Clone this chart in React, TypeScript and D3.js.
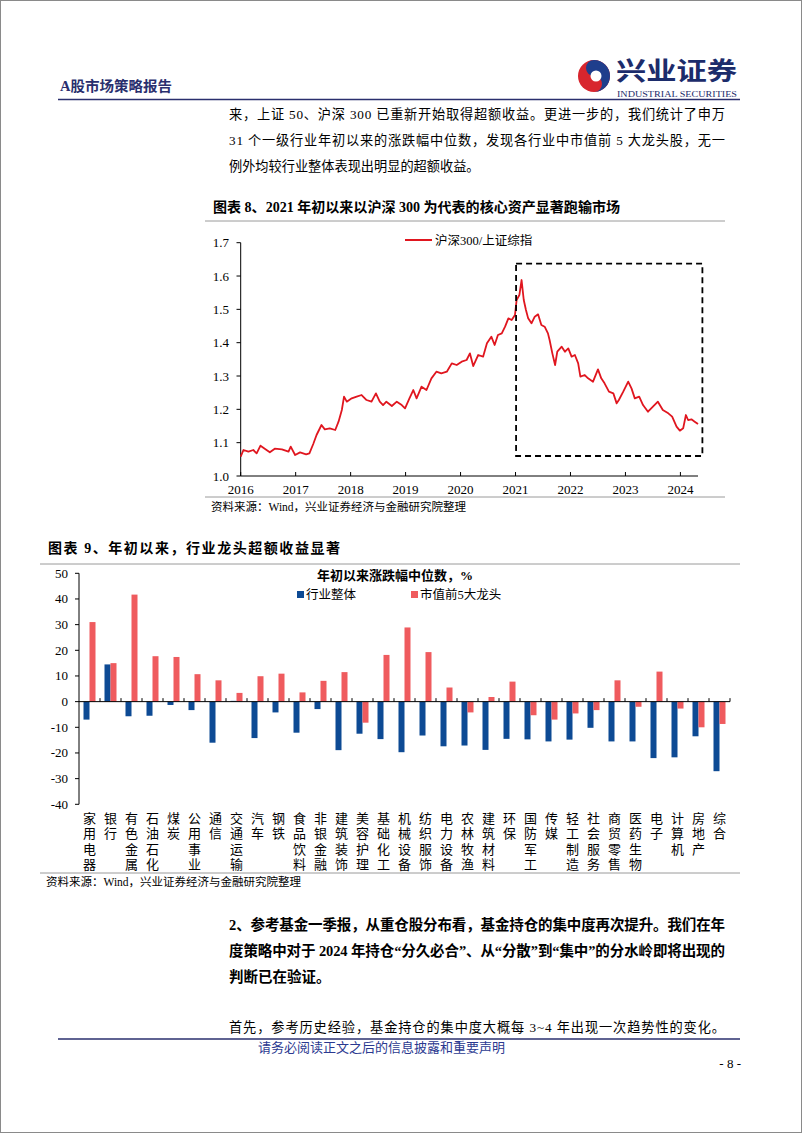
import React from 'react';
import * as d3 from 'd3';

// ---------- Chart 8: 沪深300/上证综指 ----------
const lineYears = [
  2016.0, 2016.05, 2016.14, 2016.23, 2016.29, 2016.36, 2016.47, 2016.53, 2016.62, 2016.75, 2016.87, 2016.91, 2016.99,
  2017.08, 2017.19, 2017.25, 2017.32, 2017.38, 2017.47, 2017.53, 2017.62, 2017.72, 2017.78, 2017.84, 2017.88, 2017.93,
  2018.02, 2018.11, 2018.2, 2018.29, 2018.38, 2018.46, 2018.53, 2018.59, 2018.65, 2018.75, 2018.84, 2018.93, 2018.99,
  2019.07, 2019.14, 2019.2, 2019.29, 2019.38, 2019.47, 2019.56, 2019.65, 2019.75, 2019.84, 2019.93,
  2020.02, 2020.11, 2020.17, 2020.23, 2020.32, 2020.41, 2020.48, 2020.56, 2020.62, 2020.68, 2020.75, 2020.81, 2020.87, 2020.93, 2020.99,
  2021.02, 2021.07, 2021.11, 2021.15, 2021.19, 2021.23, 2021.29, 2021.35, 2021.41, 2021.47, 2021.53, 2021.59, 2021.62, 2021.67, 2021.72, 2021.76, 2021.84, 2021.9, 2021.96,
  2022.02, 2022.08, 2022.14, 2022.18, 2022.26, 2022.32, 2022.41, 2022.5, 2022.56, 2022.62, 2022.7, 2022.78, 2022.84, 2022.88, 2022.96,
  2023.05, 2023.11, 2023.17, 2023.25, 2023.32, 2023.41, 2023.5, 2023.59, 2023.68, 2023.78, 2023.85, 2023.93, 2023.99,
  2024.05, 2024.1, 2024.14, 2024.2, 2024.26, 2024.32,
];
const lineValues = [
  1.058, 1.078, 1.073, 1.078, 1.068, 1.091, 1.078, 1.071, 1.082, 1.08, 1.073, 1.088, 1.063,
  1.071, 1.065, 1.068, 1.096, 1.123, 1.153, 1.14, 1.143, 1.138, 1.163, 1.198, 1.238, 1.223,
  1.233, 1.238, 1.243, 1.228, 1.223, 1.248, 1.223, 1.213, 1.223, 1.21, 1.223, 1.213, 1.203,
  1.233, 1.258, 1.233, 1.268, 1.258, 1.293, 1.313, 1.308, 1.313, 1.338, 1.333,
  1.343, 1.348, 1.368, 1.33, 1.363, 1.358, 1.398, 1.418, 1.393, 1.423, 1.428, 1.448, 1.473, 1.468, 1.483,
  1.528, 1.543, 1.588, 1.528, 1.498, 1.473, 1.458, 1.478, 1.485, 1.453, 1.448, 1.428, 1.408, 1.368, 1.333, 1.373, 1.388, 1.373, 1.383,
  1.358, 1.363, 1.338, 1.298, 1.303, 1.293, 1.283, 1.32, 1.293, 1.278, 1.253, 1.248, 1.218, 1.228, 1.253,
  1.283, 1.263, 1.233, 1.238, 1.213, 1.193, 1.208, 1.223, 1.198, 1.188, 1.178, 1.148, 1.136,
  1.143, 1.183, 1.168, 1.17, 1.163, 1.156,
];
const yTicks1 = [1.0, 1.1, 1.2, 1.3, 1.4, 1.5, 1.6, 1.7];
const xTicks1 = [2016, 2017, 2018, 2019, 2020, 2021, 2022, 2023, 2024];
const lineSeriesName = '沪深300/上证综指';
const highlightX = [2021.01, 2024.4];
const highlightY = [1.06, 1.637];

// ---------- Chart 9: 行业涨跌幅中位数 ----------
const industries = [
  '家用电器', '银行', '有色金属', '石油石化', '煤炭', '公用事业', '通信', '交通运输', '汽车', '钢铁',
  '食品饮料', '非银金融', '建筑装饰', '美容护理', '基础化工', '机械设备', '纺织服饰', '电力设备', '农林牧渔', '建筑材料',
  '环保', '国防军工', '传媒', '轻工制造', '社会服务', '商贸零售', '医药生物', '电子', '计算机', '房地产', '综合',
];
const industryAll = [
  -7.0, 14.5, -5.7, -5.5, -1.3, -3.3, -16.0, 0.3, -14.2, -4.2,
  -12.1, -2.9, -18.9, -12.5, -14.6, -19.7, -13.2, -17.4, -17.1, -18.8,
  -14.5, -14.7, -15.5, -14.8, -10.2, -15.5, -15.5, -22.0, -21.7, -13.5, -27.1,
];
const top5Leaders = [
  31.0, 15.0, 41.7, 17.7, 17.4, 10.7, 8.3, 3.4, 9.9, 10.9,
  3.6, 8.1, 11.5, -8.2, 18.2, 28.9, 19.3, 5.5, -4.2, 1.8,
  7.8, -5.3, -7.0, -4.6, -3.3, 8.3, -2.0, 11.7, -2.7, -10.0, -8.7,
];
const yTicks2 = [50, 40, 30, 20, 10, 0, -10, -20, -30, -40];
const seriesNames2 = ['行业整体', '市值前5大龙头'];

const SERIF = "'Liberation Serif', 'Times New Roman', 'Noto Sans CJK SC', serif";
const NAVY = '#2a2f6e';

function LineChart() {
  const x = d3.scaleLinear().domain([2016, 2024.32]).range([240.7, 698]);
  const y = d3.scaleLinear().domain([1.0, 1.7]).range([476, 242.7]);
  const pts = lineYears.map((t, i) => [t, lineValues[i]] as [number, number]);
  const path = d3.line<[number, number]>().x(d => x(d[0])).y(d => y(d[1]))(pts) || '';
  return (
    <g>
      <line x1={205} x2={725} y1={221} y2={221} stroke="#9a9a9a" strokeWidth={1} />
      <line x1={240.7} x2={240.7} y1={y(1.7)} y2={y(1.0)} stroke="#000" strokeWidth={1} />
      <line x1={240.7} x2={698} y1={y(1.0)} y2={y(1.0)} stroke="#000" strokeWidth={1} />
      {yTicks1.map(v => (
        <g key={v}>
          <line x1={236.5} x2={240.7} y1={y(v)} y2={y(v)} stroke="#000" />
          <text x={229} y={y(v) + 4.5} textAnchor="end" fontFamily={SERIF} fontSize={13}>{v.toFixed(1)}</text>
        </g>
      ))}
      {xTicks1.map(v => (
        <g key={v}>
          <line x1={x(v)} x2={x(v)} y1={y(1.0)} y2={y(1.0) - 4} stroke="#000" />
          <text x={x(v)} y={494} textAnchor="middle" fontFamily={SERIF} fontSize={13}>{v}</text>
        </g>
      ))}
      <path d={path} fill="none" stroke="#e0161f" strokeWidth={1.8} strokeLinejoin="round" />
      <rect x={x(highlightX[0])} y={y(highlightY[1])} width={x(highlightX[1]) - x(highlightX[0])}
        height={y(highlightY[0]) - y(highlightY[1])} fill="none" stroke="#000" strokeWidth={1.8} strokeDasharray="6,4" />
      <line x1={405} x2={432} y1={240} y2={240} stroke="#e0161f" strokeWidth={2} />
      <text x={435} y={244.5} fontFamily={SERIF} fontSize={12.5}>{lineSeriesName}</text>
      <line x1={205} x2={725} y1={497} y2={497} stroke="#9a9a9a" strokeWidth={1} />
      <text x={211} y={511} fontFamily={SERIF} fontSize={11.5}>资料来源：Wind，兴业证券经济与金融研究院整理</text>
    </g>
  );
}

function BarChart() {
  const x = d3.scaleBand<string>().domain(industries).range([79, 730]);
  const sub = d3.scaleBand<string>().domain(seriesNames2).range([0, 12]);
  const y = d3.scaleLinear().domain([-40, 50]).range([804.3, 573.3]);
  const bw = x.bandwidth();
  const colors = ['#0d4a94', '#ef5b5e'];
  const series = [industryAll, top5Leaders];
  return (
    <g>
      <line x1={40} x2={740} y1={564} y2={564} stroke="#9a9a9a" strokeWidth={1} />
      {series.map((vals, si) =>
        vals.map((v, i) => {
          const cx = (x(industries[i]) as number) + (bw - 12) / 2 + (sub(seriesNames2[si]) as number);
          return <rect key={si + '-' + i} x={cx} width={sub.bandwidth()} y={Math.min(y(v), y(0))}
            height={Math.abs(y(v) - y(0))} fill={colors[si]} />;
        })
      )}
      <line x1={79} x2={79} y1={y(50)} y2={y(-40)} stroke="#000" />
      {yTicks2.map(v => (
        <g key={v}>
          <line x1={75} x2={79} y1={y(v)} y2={y(v)} stroke="#000" />
          <text x={68} y={y(v) + 4.5} textAnchor="end" fontFamily={SERIF} fontSize={13}>{v}</text>
        </g>
      ))}
      <line x1={79} x2={730} y1={y(0)} y2={y(0)} stroke="#000" />
      {industries.map((c, i) => (
        <line key={'t' + i} x1={(x(c) as number) + bw} x2={(x(c) as number) + bw} y1={y(0)} y2={y(0) - 3.5} stroke="#000" />
      ))}
      {industries.map((c, i) => (
        <g key={'l' + i}>
          {c.split('').map((ch, j) => (
            <text key={j} x={(x(c) as number) + bw / 2} y={823 + j * 15.3} textAnchor="middle"
              fontFamily={SERIF} fontSize={13}>{ch}</text>
          ))}
        </g>
      ))}
      <text x={317} y={580} fontFamily={SERIF} fontSize={13} fontWeight="bold">年初以来涨跌幅中位数，%</text>
      <rect x={297} y={591} width={7} height={7} fill={colors[0]} />
      <text x={306} y={599} fontFamily={SERIF} fontSize={12.5}>{seriesNames2[0]}</text>
      <rect x={411} y={591} width={7} height={7} fill={colors[1]} />
      <text x={420} y={599} fontFamily={SERIF} fontSize={12.5}>{seriesNames2[1]}</text>
      <line x1={40} x2={740} y1={873} y2={873} stroke="#9a9a9a" strokeWidth={1} />
      <text x={46} y={886} fontFamily={SERIF} fontSize={11.5}>资料来源：Wind，兴业证券经济与金融研究院整理</text>
    </g>
  );
}

function Logo() {
  return (
    <g>
      <circle cx={594} cy={76} r={16} fill="#d8262e" />
      <path d="M594,60 A16,16 0 0,1 594,92 A8,8 0 0,0 594,76 A8,8 0 0,1 594,60 Z" fill="#1f3e8c" />
      <circle cx={596} cy={76} r={5.5} fill="#fff" />
      <text x={616} y={80} fontFamily="'Noto Sans CJK SC', sans-serif" fontWeight="bold" fontSize={25} fill="#1c2c6b"
        textLength={121} lengthAdjust="spacingAndGlyphs">兴业证券</text>
      <text x={617} y={97} fontFamily={SERIF} fontSize={8.5} fill="#1c2c6b" textLength={120} lengthAdjust="spacingAndGlyphs">INDUSTRIAL SECURITIES</text>
    </g>
  );
}

export default function App() {
  const para = { fontFamily: SERIF, fontSize: 13.2, fill: '#000' } as const;
  const bold = { fontFamily: SERIF, fontSize: 14.5, fontWeight: 'bold', fill: '#000' } as const;
  return (
    <div style={{ position: 'absolute', left: 0, top: 0 }}>
      <svg width={802} height={1133} viewBox="0 0 802 1133" style={{ display: 'block', background: '#fff' }}>
        <rect x={0.5} y={0.5} width={801} height={1132} fill="#fff" stroke="#8a8a8a" />
        <text x={60} y={91} fontFamily={SERIF} fontWeight="bold" fontSize={14} fill={NAVY} textLength={112} lengthAdjust="spacingAndGlyphs">A股市场策略报告</text>
        <Logo />
        <line x1={58} x2={740} y1={99.5} y2={99.5} stroke={NAVY} strokeWidth={1.5} />
        <text x={229} y={119} {...para} textLength={496} lengthAdjust="spacing">来，上证 50、沪深 300 已重新开始取得超额收益。更进一步的，我们统计了申万</text>
        <text x={229} y={145} {...para} textLength={496} lengthAdjust="spacing">31 个一级行业年初以来的涨跌幅中位数，发现各行业中市值前 5 大龙头股，无一</text>
        <text x={229} y={171} {...para}>例外均较行业整体表现出明显的超额收益。</text>

        <text x={213} y={212} fontFamily={SERIF} fontWeight="bold" fontSize={14} textLength={407} lengthAdjust="spacingAndGlyphs">图表 8、2021 年初以来以沪深 300 为代表的核心资产显著跑输市场</text>
        <LineChart />

        <text x={48} y={553} fontFamily={SERIF} fontWeight="bold" fontSize={14} textLength={292} lengthAdjust="spacing">图表 9、年初以来，行业龙头超额收益显著</text>
        <BarChart />

        <text x={229} y={930} {...bold} textLength={496} lengthAdjust="spacing">2、参考基金一季报，从重仓股分布看，基金持仓的集中度再次提升。我们在年</text>
        <text x={229} y={956} {...bold} textLength={496} lengthAdjust="spacing">度策略中对于 2024 年持仓“分久必合”、从“分散”到“集中”的分水岭即将出现的</text>
        <text x={229} y={982} {...bold}>判断已在验证。</text>
        <text x={229} y={1032} {...para} textLength={496} lengthAdjust="spacing">首先，参考历史经验，基金持仓的集中度大概每 3~4 年出现一次趋势性的变化。</text>

        <line x1={58} x2={740} y1={1039} y2={1039} stroke={NAVY} strokeWidth={1.5} />
        <text x={258} y={1052} fontFamily="'Noto Sans CJK SC', sans-serif" fontSize={13} fill="#2b3990">请务必阅读正文之后的信息披露和重要声明</text>
        <text x={741} y={1068} textAnchor="end" fontFamily={SERIF} fontSize={13}>- 8 -</text>
      </svg>
    </div>
  );
}
